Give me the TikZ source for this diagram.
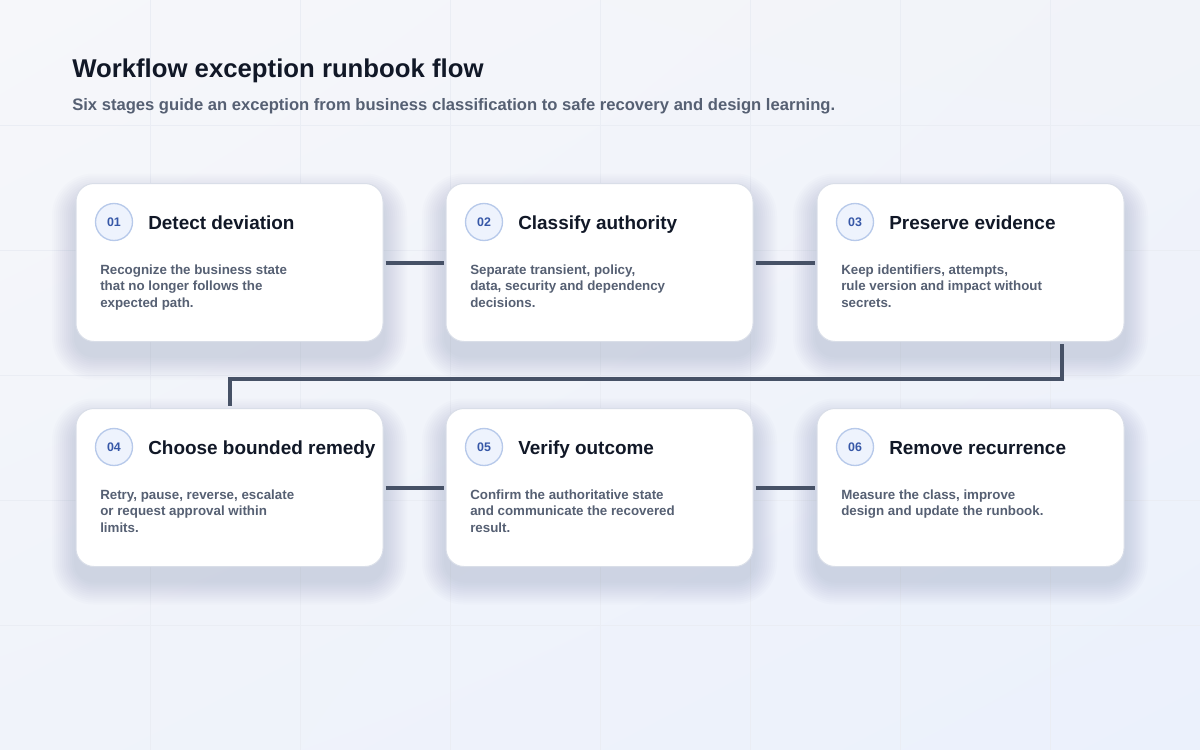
\documentclass[tikz,border=0pt]{standalone}
\usepackage{fontspec}
\setmainfont{Liberation Sans}
\usetikzlibrary{calc,shadings}
\definecolor{bgA}{HTML}{F6F7FA}
\definecolor{bgB}{HTML}{F1F3F9}
\definecolor{bgC}{HTML}{F0F3FA}
\definecolor{bgD}{HTML}{EBF1FC}
\definecolor{gridc}{HTML}{EAEDF4}
\definecolor{ink}{HTML}{111827}
\definecolor{muted}{HTML}{566073}
\definecolor{cardline}{HTML}{D9DEE8}
\definecolor{badgefill}{HTML}{EEF3FD}
\definecolor{badgeline}{HTML}{B7C9EA}
\definecolor{badgeink}{HTML}{3657A7}
\definecolor{wire}{HTML}{465166}
\definecolor{shadowc}{HTML}{7C88A8}
\begin{document}
\begin{tikzpicture}[x=0.75pt,y=-0.75pt,
  card/.style={draw=cardline, line width=0.75pt, fill=white, rounded corners=13.5pt, minimum width=230.25pt, minimum height=118.5pt, inner sep=0pt},
  badge/.style={circle, draw=badgeline, line width=1pt, fill=badgefill, minimum size=27.75pt, inner sep=0pt, text=badgeink, font=\bfseries\fontsize{9.3}{9.3}\selectfont},
  ctitle/.style={anchor=base west, inner sep=0pt, text=ink, font=\bfseries\fontsize{14.2}{17}\selectfont},
  cbody/.style={anchor=north west, inner sep=0pt, text=muted, align=left, font=\bfseries\fontsize{10}{12.4}\selectfont},
  wirestyle/.style={draw=wire, line width=3pt, shorten <=1.5pt, shorten >=1.5pt}
]
\path[use as bounding box] (0,0) rectangle (1200,750);
\shade[upper left=bgA, upper right=bgB, lower left=bgC, lower right=bgD] (0,0) rectangle (1200,750);
\foreach \gx in {150,300,...,1050} \draw[gridc, line width=0.75pt] (\gx,0) -- (\gx,750);
\foreach \gy in {125,250,...,625} \draw[gridc, line width=0.75pt] (0,\gy) -- (1200,\gy);
% shadows
\foreach \cx/\cy in {229.5/262.5, 599.5/262.5, 970.5/262.5, 229.5/487.5, 599.5/487.5, 970.5/487.5}{
  \foreach \e in {2,4,...,24}{
    \pgfmathsetmacro\rr{(18+\e)*0.75}
    \fill[shadowc, opacity=0.025, rounded corners=\rr pt] (\cx-153.5-\e,\cy-79+14-\e) rectangle (\cx+153.5+\e,\cy+79+14+\e);
  }
}
% title
\node[anchor=base west, inner sep=0pt, text=ink, font=\bfseries\fontsize{19.3}{23}\selectfont] (title) at (72,77) {Workflow exception runbook flow};
\node[anchor=base west, inner sep=0pt, text=muted, font=\bfseries\fontsize{12.45}{15}\selectfont] (subtitle) at (72,110) {Six stages guide an exception from business classification to safe recovery and design learning.};
% cards
\node[card] (c1) at (229.5,262.5) {};
\node[card] (c2) at (599.5,262.5) {};
\node[card] (c3) at (970.5,262.5) {};
\node[card] (c4) at (229.5,487.5) {};
\node[card] (c5) at (599.5,487.5) {};
\node[card] (c6) at (970.5,487.5) {};
% connectors
\coordinate (bend) at (0,379);
\draw[wirestyle] (c1.east) -- (c2.west);
\draw[wirestyle] (c2.east) -- (c3.west);
\draw[wirestyle] ([xshift=68.6pt]c3.south) -- ([xshift=68.6pt]c3.south |- bend) -- (c4.north |- bend) -- (c4.north);
\draw[wirestyle] (c4.east) -- (c5.west);
\draw[wirestyle] (c5.east) -- (c6.west);
% card contents
\node[badge] (b1) at (114,222) {01};
\node[ctitle] (t1) at (148,229.5) {Detect deviation};
\node[cbody] (d1) at (100,264.5) {Recognize the business state\\that no longer follows the\\expected path.};
\node[badge] (b2) at (484,222) {02};
\node[ctitle] (t2) at (518,229.5) {Classify authority};
\node[cbody] (d2) at (470,264.5) {Separate transient, policy,\\data, security and dependency\\decisions.};
\node[badge] (b3) at (855,222) {03};
\node[ctitle] (t3) at (889,229.5) {Preserve evidence};
\node[cbody] (d3) at (841,264.5) {Keep identifiers, attempts,\\rule version and impact without\\secrets.};
\node[badge] (b4) at (114,447) {04};
\node[ctitle] (t4) at (148,454.5) {Choose bounded remedy};
\node[cbody] (d4) at (100,489.5) {Retry, pause, reverse, escalate\\or request approval within\\limits.};
\node[badge] (b5) at (484,447) {05};
\node[ctitle] (t5) at (518,454.5) {Verify outcome};
\node[cbody] (d5) at (470,489.5) {Confirm the authoritative state\\and communicate the recovered\\result.};
\node[badge] (b6) at (855,447) {06};
\node[ctitle] (t6) at (889,454.5) {Remove recurrence};
\node[cbody] (d6) at (841,489.5) {Measure the class, improve\\design and update the runbook.};
\end{tikzpicture}
\end{document}
